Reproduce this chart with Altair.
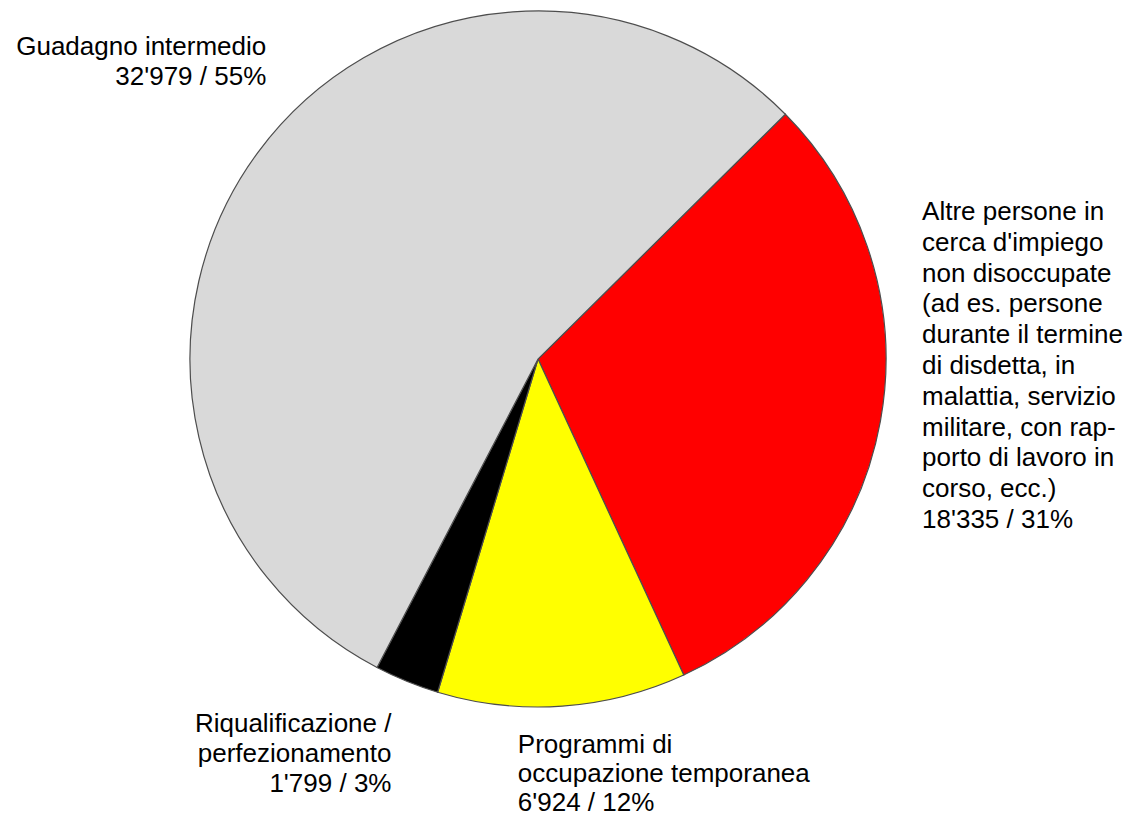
import math
import altair as alt
import pandas as pd

# ---- data ----
categories = [
    "Altre persone in cerca d'impiego non disoccupate",
    "Programmi di occupazione temporanea",
    "Riqualificazione / perfezionamento",
    "Guadagno intermedio",
]
values = [18335, 6924, 1799, 32979]
percents = [31, 12, 3, 55]
label_lines = [
    ["Altre persone in", "cerca d'impiego", "non disoccupate", "(ad es. persone",
     "durante il termine", "di disdetta, in", "malattia, servizio",
     "militare, con rap-", "porto di lavoro in", "corso, ecc.)"],
    ["Programmi di", "occupazione temporanea"],
    ["Riqualificazione /", "perfezionamento"],
    ["Guadagno intermedio"],
]
colors = ["#ff0000", "#ffff00", "#000000", "#d9d9d9"]


def fmt(v):
    return f"{v:,}".replace(",", "'")


labels = [
    "\n".join(lines + [f"{fmt(v)} / {p}%"])
    for lines, v, p in zip(label_lines, values, percents)
]

df = pd.DataFrame({
    "idx": list(range(len(categories))),
    "cat": categories,
    "value": values,
    "label": labels,
})

total = sum(values)
start_angle = math.radians(45.3)
theta_scale = alt.Scale(domain=[0, total], range=[start_angle, start_angle + 2 * math.pi])

base = (
    alt.Chart(df)
    .transform_window(cum="sum(value)", sort=[alt.SortField("idx")], frame=[None, 0])
    .transform_calculate(start="datum.cum - datum.value", mid="datum.cum - datum.value / 2")
)

pie = base.mark_arc(outerRadius=348, stroke="#4d4d4d", strokeWidth=1.2).encode(
    theta=alt.Theta("start:Q", scale=theta_scale),
    theta2="cum:Q",
    color=alt.Color("cat:N", scale=alt.Scale(domain=categories, range=colors), legend=None),
)

FONT = "Liberation Sans"
R = 370


def label_layer(i, align, line_height, dx, dy):
    return (
        base.transform_filter(f"datum.idx == {i}")
        .mark_text(
            align=align, baseline="alphabetic", lineBreak="\n", font=FONT, fontSize=26,
            lineHeight=line_height, color="#000000", radius=R, dx=dx, dy=dy,
        )
        .encode(theta=alt.Theta("mid:Q", scale=theta_scale), text="label:N")
    )


chart = alt.layer(
    pie,
    label_layer(0, "left", 30.8, 20, -205),
    label_layer(1, "left", 29, -46, 25),
    label_layer(2, "right", 30, -7, 30),
    label_layer(3, "right", 30, 26, -84),
).properties(
    width=1060, height=694, padding=0
).configure_view(stroke=None)

chart.save("out.html", embed_options={"renderer": "svg", "actions": False})
